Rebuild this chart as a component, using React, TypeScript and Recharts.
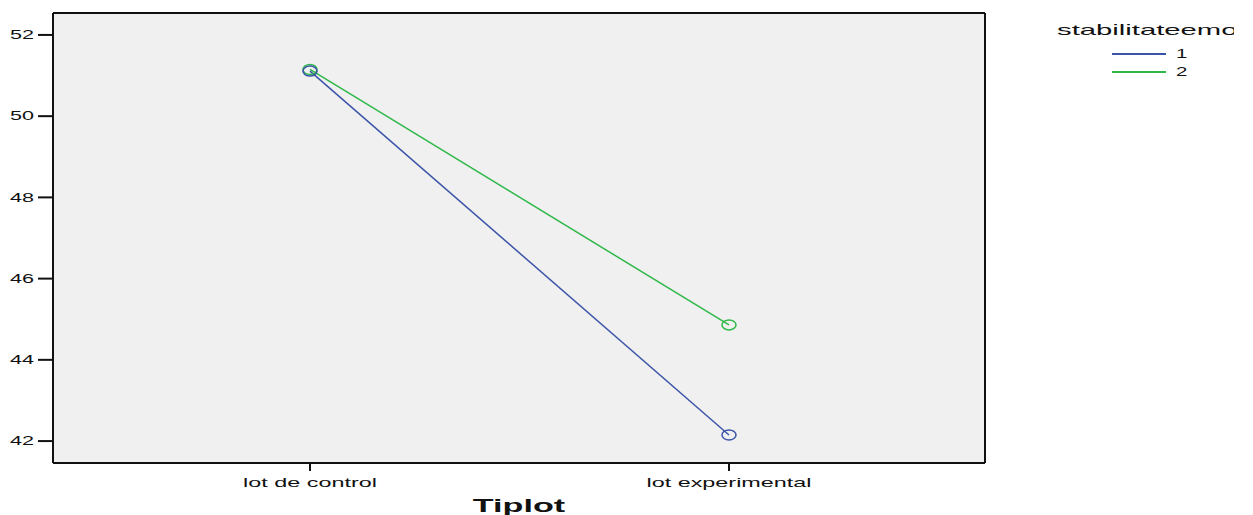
import React from 'react';
import { LineChart, Line, XAxis, YAxis, CartesianGrid, Label } from 'recharts';

const categories = ['lot de control', 'lot experimental'];
const series1 = [51.11, 42.15];
const series2 = [51.15, 44.86];
const yTicks = [42, 44, 46, 48, 50, 52];
const legendTitle = 'stabilitateemo';
const legendItems = ['1', '2'];

const BLUE = '#3b54a8';
const GREEN = '#2fb84a';
const INK = '#111';
const FONT = '"Liberation Sans", Arial, sans-serif';

const data = categories.map((c, i) => ({ name: c, s1: series1[i], s2: series2[i] }));

// open elliptical marker like the SPSS profile plot
const Ring = (color: string) => (props: any) => {
  const { cx, cy } = props;
  if (cx == null || cy == null) return null;
  return <ellipse cx={cx} cy={cy} rx={7} ry={5} fill="none" stroke={color} strokeWidth={1.5} />;
};

// the source image is stretched horizontally, so text is widened too
const YTick = (props: any) => {
  const { x, y, payload } = props;
  return (
    <text transform={`translate(${x},${y}) scale(1.8,1)`} textAnchor="end" dy="0.35em" fontSize={12} fontFamily={FONT} fill={INK}>
      {payload.value}
    </text>
  );
};

const XTick = (props: any) => {
  const { x, y, payload } = props;
  return (
    <text transform={`translate(${x},${y}) scale(1.95,1)`} textAnchor="middle" dy="0.71em" fontSize={12} fontFamily={FONT} fill={INK}>
      {payload.value}
    </text>
  );
};

const AxisTitle = (props: any) => {
  const { viewBox } = props;
  const cx = viewBox.x + viewBox.width / 2;
  return (
    <text transform={`translate(${cx},${viewBox.y + 49}) scale(1.9,1)`} textAnchor="middle" fontSize={18} fontWeight="bold" fontFamily={FONT} fill={INK}>
      Tiplot
    </text>
  );
};

const frameH = ({ offset }: any) => [offset.top, offset.top + offset.height];
const frameV = ({ offset }: any) => [offset.left, offset.left + offset.width];

const LegendBox = () => (
  <div style={{ position: 'absolute', left: 1057, top: 21, width: 177, overflow: 'hidden', fontFamily: FONT, color: INK, whiteSpace: 'nowrap' }}>
    <div style={{ fontSize: 15, lineHeight: '18px', transform: 'scaleX(1.95)', transformOrigin: 'left center' }}>{legendTitle}</div>
    <div style={{ marginTop: 6 }}>
      {legendItems.map((label, i) => (
        <div key={label} style={{ display: 'flex', alignItems: 'center', height: 18, marginLeft: 55 }}>
          <span style={{ display: 'inline-block', width: 54, height: 2, background: i === 0 ? BLUE : GREEN }} />
          <span style={{ fontSize: 12, marginLeft: 10, transform: 'scaleX(1.7)', transformOrigin: 'left center' }}>{label}</span>
        </div>
      ))}
    </div>
  </div>
);

export default function App() {
  return (
    <div style={{ position: 'absolute', left: 0, top: 0, width: 1253, height: 515, overflow: 'hidden', background: '#fff' }}>
      <LineChart width={1253} height={515} data={data} margin={{ top: 13, right: 268, bottom: 0, left: 0 }}>
        <CartesianGrid
          fill="#f0f0f0"
          stroke={INK}
          strokeWidth={2}
          horizontalCoordinatesGenerator={frameH}
          verticalCoordinatesGenerator={frameV}
        />
        <XAxis
          dataKey="name"
          height={52}
          padding={{ left: 257, right: 256 }}
          axisLine={{ stroke: INK, strokeWidth: 2 }}
          tickLine={{ stroke: INK, strokeWidth: 2 }}
          tickSize={8}
          tickMargin={7}
          tick={<XTick />}
        >
          <Label content={<AxisTitle />} />
        </XAxis>
        <YAxis
          width={53}
          domain={[41.46, 52.54]}
          ticks={yTicks}
          axisLine={{ stroke: INK, strokeWidth: 2 }}
          tickLine={{ stroke: INK, strokeWidth: 2 }}
          tickSize={15}
          tickMargin={4}
          tick={<YTick />}
        />
        <Line dataKey="s2" stroke={GREEN} strokeWidth={1.5} dot={Ring(GREEN)} activeDot={false} isAnimationActive={false} />
        <Line dataKey="s1" stroke={BLUE} strokeWidth={1.5} dot={Ring(BLUE)} activeDot={false} isAnimationActive={false} />
      </LineChart>
      <LegendBox />
    </div>
  );
}
